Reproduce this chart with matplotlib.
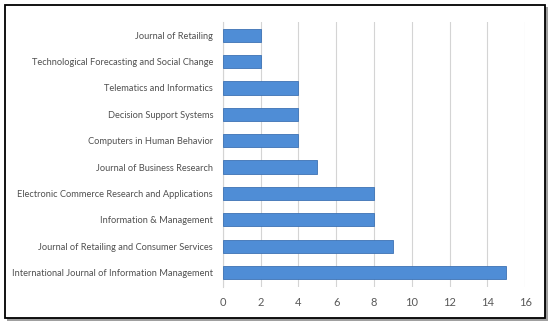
import matplotlib
matplotlib.use("Agg")
import matplotlib.pyplot as plt
from matplotlib.patches import Rectangle
from matplotlib.textpath import TextPath
from matplotlib.font_manager import FontProperties

journals = [
    "International Journal of Information Management",
    "Journal of Retailing and Consumer Services",
    "Information & Management",
    "Electronic Commerce Research and Applications",
    "Journal of Business Research",
    "Computers in Human Behavior",
    "Decision Support Systems",
    "Telematics and Informatics",
    "Technological Forecasting and Social Change",
    "Journal of Retailing",
]
counts = [15, 9, 8, 8, 5, 4, 4, 4, 2, 2]
xticks = [0, 2, 4, 6, 8, 10, 12, 14, 16]

plt.rcParams['font.family'] = ['Lato', 'DejaVu Sans']

# size the labels so the longest one is about 199 px wide, like the reference
fp = FontProperties(family='Lato', size=10)
w10 = TextPath((0, 0), journals[0], prop=fp).get_extents().width  # in points
lab_size = 10 * (199 * 0.72) / w10

fig = plt.figure(figsize=(5.5, 3.25), dpi=100)
ax = fig.add_axes([0.405, 0.117, 0.55, 0.815])
ax.set_zorder(5)

# shadow + frame
fig.patches.append(Rectangle((7 / 550, 1 - 321 / 325), 541 / 550, 314 / 325,
                             transform=fig.transFigure, facecolor='#a0a0a0',
                             edgecolor='none', zorder=0))
fig.patches.append(Rectangle((5 / 550, 1 - 318 / 325), 540 / 550, 313 / 325,
                             transform=fig.transFigure, facecolor='white',
                             edgecolor='black', linewidth=1.3, zorder=1))

ax.barh(range(len(journals)), counts, height=0.5, color='#4f8dd6',
        edgecolor='#3d72b4', linewidth=0.6, zorder=3)
ax.set_yticks(range(len(journals)))
ax.set_yticklabels(journals, fontsize=lab_size, color='#505050')
ax.set_xticks(xticks)
ax.set_xticklabels([str(t) for t in xticks], fontsize=8, color='#595959')
ax.set_xlim(0, 16)
ax.set_ylim(-0.55, 9.5)
ax.grid(axis='x', color='#d4d4d4', linewidth=0.8, zorder=0)
ax.set_axisbelow(True)
for s in ax.spines.values():
    s.set_visible(False)
ax.spines['left'].set_visible(True)
ax.spines['left'].set_color('#d4d4d4')
ax.tick_params(axis='y', length=0, pad=7)
ax.tick_params(axis='x', length=0, pad=7)
ax.patch.set_alpha(0)

fig.savefig("out.png", dpi=100)
